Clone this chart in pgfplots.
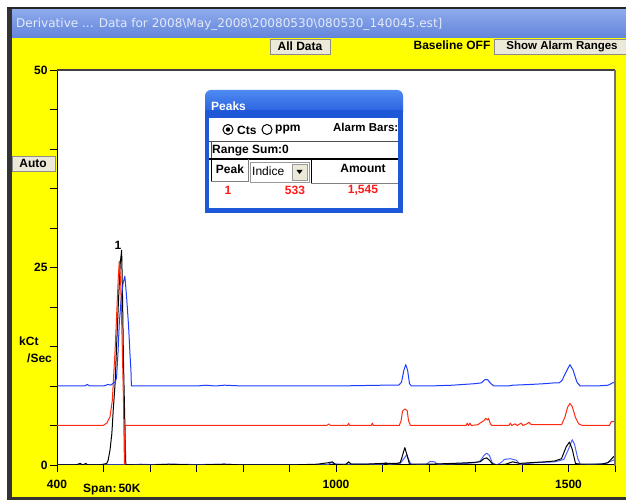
\documentclass[border=0pt]{standalone}
\usepackage{pgfplots}
\pgfplotsset{compat=1.18}
\usepackage{fontspec}
\setmainfont{Liberation Sans}
\newfontfamily\dejavu{DejaVu Sans}
\definecolor{tbtop}{HTML}{8DAAEB}
\definecolor{tbbot}{HTML}{6384DB}
\definecolor{btn}{HTML}{ECE9D8}
\definecolor{pblue}{HTML}{1F57D9}
\definecolor{pbluelt}{HTML}{4F8AF2}
\definecolor{dblue}{HTML}{1E3CFF}
\definecolor{dred}{HTML}{FF2A10}
\definecolor{ylw}{HTML}{FFFF00}
\definecolor{txtred}{HTML}{FF1A1A}
\definecolor{ttxt}{HTML}{E2E9F8}
\newcommand{\bfs}{\bfseries\fontsize{12}{14}\selectfont}
\begin{document}
\begin{tikzpicture}[x=1pt,y=1pt]
\useasboundingbox (0,0) rectangle (626,500);
\fill[white] (0,0) rectangle (626,500);
\begin{scope}[yshift=500pt, y=-1pt]
  \fill[ylw] (12,38) rectangle (626,497);
  \fill[black!80] (7,7) rectangle (12,500);
  \fill[black!80] (7,497) rectangle (626,500);
  \fill[black!85] (7,7) rectangle (626,9.5);
  \shade[top color=tbtop, bottom color=tbbot] (12,9.5) rectangle (626,38);
  \node[anchor=west, inner sep=0, text=ttxt, font=\dejavu\fontsize{12.05}{14}\selectfont] at (16,24.5) {Derivative ... Data for 2008\textbackslash May\_2008\textbackslash 20080530\textbackslash 080530\_140045.est]};
  % buttons
  \draw[fill=btn, draw=black!45] (270,39.5) rectangle (330,54);
  \node[font=\bfs, inner sep=0] at (300,46.5) {All Data};
  \node[font=\bfs, inner sep=0] at (452,45.5) {Baseline OFF};
  \draw[fill=btn, draw=black!45] (494,39.5) rectangle (630,54);
  \node[font=\fontsize{11.5}{13}\selectfont\bfseries, inner sep=0] at (562,46.5) {Show Alarm Ranges};
  \draw[fill=btn, draw=black!45] (12,156) rectangle (55,171);
  \node[font=\bfs, inner sep=0] at (33,163.5) {Auto};
  \node[font=\bfs, inner sep=0, anchor=west] at (19,341) {kCt};
  \node[font=\bfs, inner sep=0, anchor=west] at (27,358) {/Sec};
  \node[font=\bfs, inner sep=0, anchor=west] at (83,490) {Span:\,50K};
\end{scope}
\begin{axis}[
  at={(57pt,35pt)}, anchor=south west, scale only axis,
  width=558pt, height=395pt,
  xmin=400, xmax=1600, ymin=0, ymax=50,
  axis lines*=left,
  axis line style={black, line width=1pt, -},
  axis background/.style={fill=white},
  xtick={400,500,...,1600},
  xticklabels={400,,,,,,1000,,,,,1500,},
  ytick={0,5,...,50},
  yticklabels={0,,,,,25,,,,,50},
  tick align=outside, major tick length=7pt,
  tick style={black, line width=0.8pt},
  ticklabel style={font=\bfs},
  xticklabel style={yshift=-5pt},
  yticklabel style={xshift=1pt},
  every axis plot/.append style={line width=1pt, line join=round},
]
% bottom blue (offset 0)
\addplot[dblue!80!white] coordinates {
(400,0) (560,0) (580,0.1) (600,0.05) (650,0.1) (700,0.05) (760,0.1) (800,0) (980,0) (990,0.3) (1000,0.1)
(1100,0.1) (1107,0.3) (1113,0.1) (1138,0.2) (1146,0.8) (1152,1.3) (1157,0.6) (1162,0) (1195,0.1) (1202,0.45) (1212,0.4) (1218,0.1)
(1280,0.2) (1300,0.3) (1310,0.5) (1318,1.2) (1324,1.5) (1330,1.2) (1336,0.3) (1345,0) (1355,0.3) (1362,0.7) (1375,0.8)
(1388,0.6) (1395,0.1) (1430,0.3) (1470,0.4) (1490,0.7) (1500,2.0) (1508,3.2) (1513,2.6) (1520,0.8) (1526,0)
(1560,0.1) (1580,0.2) (1592,0.5) (1600,0.7)};
% black (offset 0)
\addplot[black] coordinates {
(400,0) (440,0) (450,0.2) (455,0) (462,0.2) (466,0) (490,0) (500,0.1) (507,0.2) (510,0.6) (514,1.9) (518,4.0)
(521,7) (525,10.4) (528,14.8) (532,20.5) (536,25.5) (539,27.2) (541,21) (543,13) (546,5) (548,0) (600,0)
(640,0.1) (700,0) (760,0.1) (800,0) (900,0) (960,0.1) (985,0.3) (992,0.4) (998,0.1) (1020,0) (1027,0.4)
(1033,0.1) (1060,0.1) (1100,0.2) (1130,0.2) (1138,0.3) (1142,1) (1148,2.2) (1153,1.2) (1158,0.1) (1200,0.1)
(1250,0.2) (1290,0.3) (1310,0.4) (1318,0.8) (1324,0.9) (1330,0.6) (1337,0.1) (1345,0) (1365,0.1) (1380,0.4)
(1395,0.2) (1420,0.3) (1450,0.4) (1470,0.5) (1485,0.8) (1495,2.3) (1502,2.9) (1508,2.0) (1515,0.2) (1525,0.1)
(1570,0.1) (1585,0.3) (1593,0.8) (1598,1.1)};
% red (offset 5)
\addplot[dred] coordinates {
(400,5) (499,5) (507,5.3) (514,6.1) (519,8.2) (521,10.4) (525,14.6) (529,20) (532,24) (534,25.8) (537,23)
(540,16) (543,8) (545,0.1) (546,0.1) (547,5) (980,5) (985,5.2) (988,5) (1025,5) (1027,5.3) (1029,5) (1076,5)
(1078,5.3) (1080,5) (1136,5) (1140,5.6) (1143,6.8) (1148,7.1) (1153,6.9) (1156,5.6) (1160,5) (1280,5)
(1282,5.3) (1285,5) (1288,5.3) (1291,5) (1305,5.1) (1312,5.4) (1318,5.6) (1322,5.9) (1326,5.7) (1328,5.9)
(1332,5.2) (1335,5) (1372,5) (1375,5.3) (1378,5) (1385,5.2) (1390,5) (1398,5.3) (1402,5) (1410,5.2) (1415,5.4)
(1420,5.1) (1425,5.1) (1440,5.1) (1485,5.1) (1492,6) (1498,7.3) (1503,7.8) (1508,7.4) (1515,6) (1522,5.2)
(1530,5) (1588,5) (1592,5.5) (1595,5.5) (1600,5.5)};
% top blue (offset 10)
\addplot[dblue] coordinates {
(400,10) (460,10) (465,10.2) (470,10) (500,10) (505,10.1) (510,10.2) (515,10.1) (520,10.3) (525,10.5) (528,11)
(531,14) (534,18) (538,21) (542,23) (546,23.9) (550,21) (554,17.5) (557,14) (559,12) (560,10) (700,10)
(720,10.1) (740,10) (760,10.1) (800,10) (900,10) (1000,10) (1050,10.05) (1100,10.1) (1135,10.1) (1141,10.5)
(1146,12) (1150,12.7) (1154,12) (1158,10.3) (1162,10) (1200,10) (1250,10.1) (1300,10.3) (1313,10.4)
(1320,10.8) (1326,10.8) (1333,10.3) (1340,10) (1370,10) (1380,10.1) (1420,10.2) (1450,10.3) (1470,10.4)
(1480,10.4) (1486,10.7) (1495,11.8) (1503,12.7) (1510,12) (1518,10.5) (1525,10) (1560,10) (1585,10.1)
(1595,10.4) (1600,10.5)};
\node[font=\bfs, inner sep=0] at (axis cs:531,27.8) {1};
\end{axis}
\begin{scope}[yshift=500pt, y=-1pt]
  \draw[black!75, line width=1.2pt] (57,70) -- (615,70);
  \draw[black!55, line width=2pt] (615,70) -- (615,466);
  % Peaks window
  \fill[pblue] (205,100) rectangle (403,213);
  \shade[top color=pbluelt, bottom color=pblue, rounded corners=6pt] (205,90) rectangle (403,118);
  \fill[pblue] (205,110) rectangle (403,118);
  \node[anchor=west, text=white, font=\bfs, inner sep=0] at (211,106) {Peaks};
  \fill[white] (209,118) rectangle (398,208);
  \draw[black, line width=1pt] (228,129.5) circle (5);
  \fill[black] (228,129.5) circle (2.2);
  \node[anchor=west, font=\bfs, inner sep=0] at (237,130) {Cts};
  \draw[black, line width=1pt] (267,129.5) circle (5);
  \node[anchor=west, font=\bfs, inner sep=0] at (275,130) {ppm};
  \node[anchor=east, font=\fontsize{11.5}{13}\selectfont\bfseries, inner sep=0] at (398.5,127.5) {Alarm Bars:};
  \draw[black!70, line width=0.8pt] (209,141.5) -- (398,141.5);
  \draw[black!70, line width=0.8pt] (211,141.5) -- (211,159);
  \node[anchor=west, font=\bfs, inner sep=0] at (212,150.5) {Range Sum:0};
  \draw[black, line width=1.3pt] (209,159) -- (398,159);
  \draw[black, line width=0.8pt] (211,159) -- (211,181) ;
  \draw[black!50, line width=0.8pt] (211,181) -- (248,181) -- (248,159);
  \node[font=\bfs, inner sep=0] at (230,169) {Peak};
  \draw[black!40, fill=white] (250,162) rectangle (309,182);
  \node[anchor=west, font=\fontsize{12}{14}\selectfont, inner sep=0] at (252,171) {Indice};
  \draw[black!40, fill=btn] (292,164) rectangle (307,180);
  \fill[black] (296.5,170) -- (302.5,170) -- (299.5,174) -- cycle;
  \draw[black, line width=0.8pt] (311,159) -- (311,183);
  \draw[black!50, line width=0.8pt] (311,183) -- (398,183);
  \node[font=\bfs, inner sep=0] at (363,168) {Amount};
  \node[font=\bfs, text=txtred, inner sep=0] at (228,190) {1};
  \node[font=\bfs, text=txtred, inner sep=0] at (295,190) {533};
  \node[font=\bfs, text=txtred, inner sep=0] at (363,190) {1,545};
\end{scope}
\end{tikzpicture}
\end{document}
